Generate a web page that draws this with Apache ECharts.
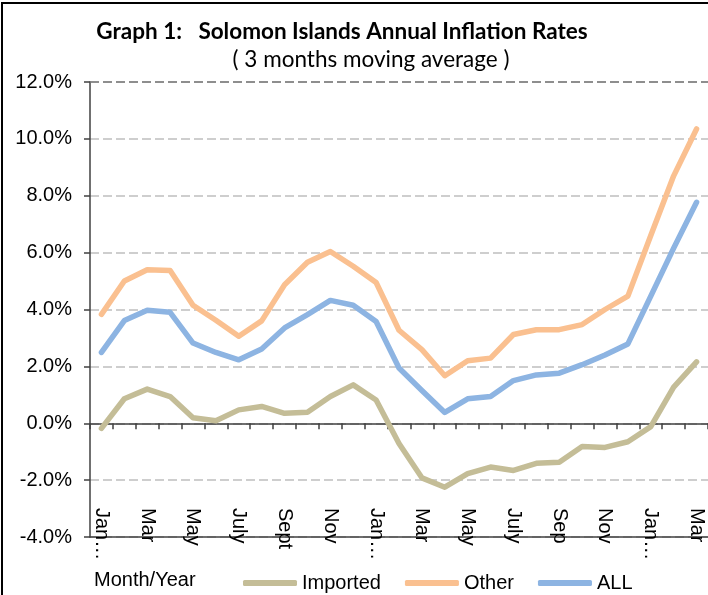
<!DOCTYPE html>
<html>
<head>
<meta charset="utf-8">
<script src="https://cdn.jsdelivr.net/npm/echarts@6/dist/echarts.min.js"></script>
<style>
  html, body { margin: 0; padding: 0; background: #fff; }
  #chart1 { width: 708px; height: 595px; }
</style>
</head>
<body>
<div id="chart1"></div>
<script>
// month labels (Jan of each year was truncated to "Jan…" in the original)
var months = ['Jan\u2026', 'Feb', 'Mar', 'Apr', 'May', 'Jun', 'July', 'Aug', 'Sept', 'Oct', 'Nov', 'Dec',
              'Jan\u2026', 'Feb', 'Mar', 'Apr', 'May', 'Jun', 'July', 'Aug', 'Sep', 'Oct', 'Nov', 'Dec',
              'Jan\u2026', 'Feb', 'Mar'];

// annual inflation, % (3 months moving average)
var imported = [-0.18, 0.86, 1.20, 0.94, 0.19, 0.09, 0.47, 0.59, 0.35, 0.39, 0.94, 1.35, 0.82,
                -0.71, -1.92, -2.25, -1.77, -1.54, -1.66, -1.41, -1.37, -0.82, -0.85, -0.65, -0.12, 1.27, 2.16];
var other = [3.83, 5.00, 5.40, 5.37, 4.15, 3.62, 3.06, 3.60, 4.87, 5.66, 6.04, 5.52, 4.95,
             3.27, 2.59, 1.67, 2.20, 2.29, 3.12, 3.29, 3.29, 3.47, 4.00, 4.47, 6.60, 8.70, 10.35];
var all = [2.49, 3.61, 3.97, 3.90, 2.82, 2.49, 2.23, 2.61, 3.35, 3.82, 4.32, 4.15, 3.58,
           1.94, 1.15, 0.38, 0.86, 0.94, 1.50, 1.70, 1.76, 2.06, 2.40, 2.79, 4.47, 6.16, 7.77];

var seriesNames = ['Imported', 'Other', 'ALL'];
var colors = ['#C4BD97', '#FAC090', '#8DB4E2'];

var font = 'Liberation Sans, Arial, sans-serif';

function lineSeries(name, data, color) {
    return {
        name: name,
        type: 'line',
        data: data,
        symbol: 'none',
        smooth: false,
        lineStyle: { color: color, width: 5.5, cap: 'round', join: 'round' },
        itemStyle: { color: color }
    };
}

var series = [
    lineSeries(seriesNames[0], imported, colors[0]),
    lineSeries(seriesNames[1], other, colors[1]),
    lineSeries(seriesNames[2], all, colors[2])
];
// darker dashed line along the top of the plot (12%)
series[0].markLine = {
    silent: true,
    symbol: 'none',
    label: { show: false },
    lineStyle: { color: '#7a7a7a', type: [9, 4], width: 1.5 },
    data: [{ yAxis: 12 }]
};

var option1 = {
    animation: false,
    backgroundColor: '#fff',
    graphic: [
        { type: 'rect', shape: { x: 2, y: 3, width: 720, height: 610 },
          style: { fill: 'none', stroke: '#000', lineWidth: 2 }, z: -1 },
        { type: 'text', x: 342, y: 32,
          style: { text: 'Graph 1:   Solomon Islands Annual Inflation Rates', font: 'bold 22.5px Lato, sans-serif',
                   fill: '#000', textAlign: 'center', textVerticalAlign: 'middle' } },
        { type: 'text', x: 371, y: 60,
          style: { text: '( 3 months moving average )', font: '22.5px Lato, sans-serif',
                   fill: '#000', textAlign: 'center', textVerticalAlign: 'middle' } },
        { type: 'text', x: 94, y: 580,
          style: { text: 'Month/Year', font: '20px ' + font, fill: '#000',
                   textAlign: 'left', textVerticalAlign: 'middle' } }
    ],
    legend: {
        data: seriesNames,
        left: 238,
        top: 568,
        icon: 'roundRect',
        itemWidth: 54,
        itemHeight: 6,
        itemGap: 24,
        textStyle: { fontFamily: font, fontSize: 20, color: '#000' }
    },
    grid: { left: 90, top: 82, width: 621, height: 455 },
    xAxis: [
        {
            type: 'category',
            data: months,
            boundaryGap: true,
            position: 'bottom',
            axisLine: { onZero: false, lineStyle: { color: '#404040', width: 1.5 } },
            axisTick: { show: false },
            axisLabel: { interval: 1, rotate: -90, margin: -29, fontFamily: font, fontSize: 20, color: '#000' },
            splitLine: { show: false }
        },
        {
            type: 'category',
            data: months,
            boundaryGap: true,
            position: 'bottom',
            axisLine: { onZero: true, lineStyle: { color: '#404040', width: 1.5 } },
            axisTick: { show: true, interval: 0, length: 6, lineStyle: { color: '#404040', width: 1.5 } },
            axisLabel: { show: false },
            splitLine: { show: false }
        }
    ],
    yAxis: {
        type: 'value',
        min: -4,
        max: 12,
        interval: 2,
        axisLine: { show: true, lineStyle: { color: '#404040', width: 1.5 } },
        axisTick: { show: true, length: 6, lineStyle: { color: '#404040', width: 1.5 } },
        axisLabel: {
            margin: 18,
            fontFamily: font,
            fontSize: 20,
            color: '#000',
            formatter: function (v) { return v.toFixed(1) + '%'; }
        },
        splitLine: { show: true, lineStyle: { color: '#BEBEBE', type: [9, 4], width: 1.5 } }
    },
    series: series
};

echarts.init(document.getElementById('chart1')).setOption(option1);
</script>
</body>
</html>
